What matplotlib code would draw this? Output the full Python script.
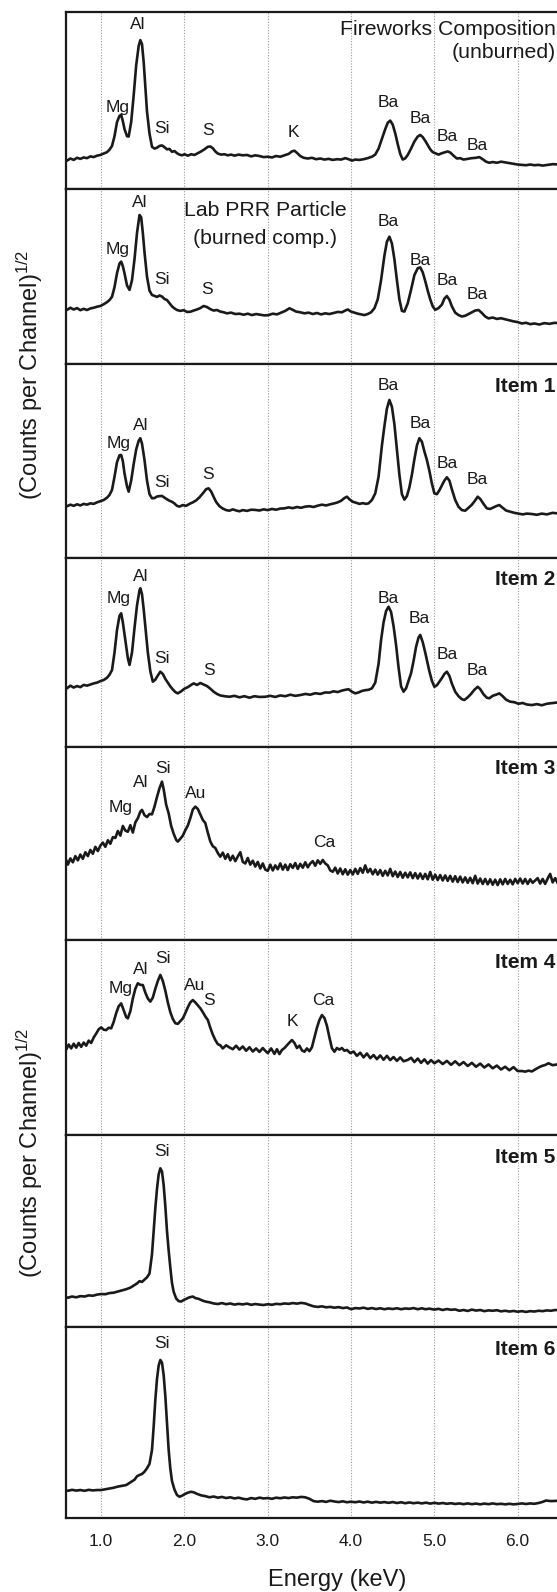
import matplotlib.pyplot as plt

plt.rcParams['font.family'] = ['Liberation Sans', 'DejaVu Sans']
plt.rcParams['mathtext.fontset'] = 'custom'
plt.rcParams['mathtext.rm'] = 'Liberation Sans'
plt.rcParams['mathtext.it'] = 'Liberation Sans:italic'

# --- spectra: energy (keV) and sqrt(counts) scaled to % of panel height ---
fw_e = [0.55, 0.59, 0.63, 0.67, 0.71, 0.75, 0.79, 0.83, 0.87, 0.91, 0.95, 0.99, 1.03, 1.07, 1.10, 1.13,
        1.16, 1.19, 1.22, 1.24, 1.26, 1.28, 1.31, 1.33, 1.36, 1.39, 1.42, 1.45, 1.47, 1.49, 1.51, 1.53,
        1.55, 1.58, 1.61, 1.64, 1.67, 1.70, 1.73, 1.76, 1.79, 1.82, 1.85, 1.88, 1.91, 1.94, 1.97, 2.00,
        2.04, 2.08, 2.12, 2.16, 2.20, 2.24, 2.28, 2.31, 2.34, 2.37, 2.40, 2.44, 2.48, 2.52, 2.56, 2.60,
        2.65, 2.70, 2.75, 2.80, 2.85, 2.90, 2.95, 3.00, 3.05, 3.10, 3.15, 3.20, 3.25, 3.29, 3.32, 3.35,
        3.39, 3.43, 3.48, 3.53, 3.58, 3.63, 3.68, 3.73, 3.78, 3.83, 3.88, 3.93, 3.97, 4.01, 4.05, 4.10,
        4.15, 4.20, 4.25, 4.29, 4.33, 4.37, 4.41, 4.44, 4.47, 4.50, 4.53, 4.56, 4.59, 4.62, 4.65, 4.68,
        4.72, 4.76, 4.80, 4.83, 4.86, 4.89, 4.92, 4.95, 4.98, 5.01, 5.05, 5.09, 5.13, 5.16, 5.19, 5.23,
        5.27, 5.31, 5.35, 5.40, 5.45, 5.50, 5.54, 5.58, 5.62, 5.66, 5.70, 5.75, 5.80, 5.85, 5.90, 5.95,
        6.00, 6.05, 6.10, 6.15, 6.20, 6.25, 6.30, 6.36, 6.42, 6.48, 6.55, 6.62, 6.70, 6.78, 6.90]
fw_y = [17.0, 16.2, 17.4, 16.6, 17.8, 17.2, 18.0, 17.6, 18.6, 18.2, 19.0, 19.4, 20.2, 21.0, 22.4, 24.5,
        30.0, 38.0, 41.5, 42.0, 38.5, 34.0, 30.0, 29.8, 38.0, 53.0, 70.0, 81.0, 84.3, 82.0, 72.0, 58.0,
        44.0, 31.5, 24.0, 23.0, 23.5, 24.5, 24.8, 23.8, 22.6, 22.8, 21.2, 21.6, 20.4, 19.6, 19.2, 19.8,
        19.0, 19.8, 19.4, 20.4, 21.4, 22.6, 24.0, 24.2, 23.2, 21.4, 20.2, 19.6, 19.8, 19.2, 19.6, 19.0,
        19.6, 19.2, 19.4, 18.6, 19.2, 18.8, 18.2, 18.4, 18.0, 18.8, 18.4, 19.2, 20.0, 21.4, 21.8, 20.6,
        18.8, 17.8, 17.4, 17.8, 17.0, 17.4, 16.8, 17.2, 16.6, 17.0, 16.8, 17.6, 17.0, 16.2, 16.8, 16.6,
        17.0, 17.6, 18.4, 19.6, 23.0, 28.5, 34.0, 37.6, 38.8, 36.5, 31.6, 25.5, 20.0, 16.8, 17.5, 19.4,
        23.0, 27.0, 29.8, 30.7, 29.5, 27.4, 25.0, 22.6, 21.0, 20.4, 19.6, 20.4, 21.0, 21.4, 20.8, 19.0,
        17.4, 17.6, 16.8, 17.2, 17.6, 17.8, 18.2, 17.0, 15.6, 15.0, 15.4, 15.0, 15.6, 15.2, 14.8, 14.4,
        14.0, 13.8, 13.6, 14.0, 13.6, 13.8, 13.4, 13.8, 14.2, 14.0, 14.6, 14.4, 14.8, 14.4, 14.6]

lab_e = [0.55, 0.59, 0.63, 0.67, 0.71, 0.75, 0.79, 0.83, 0.87, 0.91, 0.95, 0.99, 1.03, 1.07, 1.10, 1.13,
         1.16, 1.19, 1.22, 1.24, 1.26, 1.28, 1.31, 1.34, 1.37, 1.40, 1.43, 1.46, 1.48, 1.50, 1.52, 1.55,
         1.58, 1.61, 1.64, 1.67, 1.70, 1.73, 1.76, 1.79, 1.82, 1.85, 1.88, 1.91, 1.95, 1.99, 2.03, 2.07,
         2.11, 2.15, 2.19, 2.23, 2.27, 2.31, 2.35, 2.39, 2.43, 2.47, 2.51, 2.56, 2.61, 2.66, 2.71, 2.76,
         2.81, 2.86, 2.91, 2.96, 3.01, 3.06, 3.11, 3.16, 3.21, 3.26, 3.30, 3.34, 3.39, 3.44, 3.49, 3.54,
         3.59, 3.64, 3.69, 3.74, 3.79, 3.84, 3.89, 3.93, 3.96, 4.00, 4.04, 4.08, 4.12, 4.16, 4.20, 4.24,
         4.28, 4.32, 4.36, 4.40, 4.43, 4.46, 4.49, 4.52, 4.55, 4.58, 4.61, 4.64, 4.68, 4.72, 4.76, 4.80,
         4.83, 4.86, 4.89, 4.92, 4.95, 4.98, 5.01, 5.05, 5.09, 5.12, 5.15, 5.18, 5.21, 5.25, 5.29, 5.33,
         5.37, 5.41, 5.45, 5.49, 5.53, 5.57, 5.61, 5.65, 5.70, 5.75, 5.80, 5.85, 5.90, 5.95, 6.00, 6.05,
         6.10, 6.15, 6.20, 6.26, 6.32, 6.38, 6.45, 6.52, 6.60, 6.68, 6.76, 6.90]
lab_y = [31.9, 31.0, 32.2, 31.2, 32.0, 30.8, 31.6, 30.9, 31.8, 32.2, 32.8, 33.2, 34.2, 35.4, 36.6, 38.5,
         44.0, 52.0, 57.5, 58.6, 56.0, 51.9, 45.0, 42.4, 48.0, 60.0, 75.0, 85.3, 84.0, 75.0, 64.0, 50.0,
         42.0, 39.5, 39.0, 38.4, 39.2, 38.6, 37.2, 36.6, 34.8, 33.0, 31.8, 30.9, 30.4, 30.8, 29.8, 29.9,
         30.6, 31.2, 32.0, 33.2, 32.6, 31.4, 30.6, 30.9, 30.0, 29.6, 29.0, 29.4, 28.6, 28.8, 28.2, 28.8,
         28.0, 28.6, 28.2, 27.8, 28.0, 28.8, 28.4, 29.4, 30.4, 31.9, 31.0, 30.0, 29.6, 29.0, 29.4, 28.6,
         29.2, 28.4, 29.0, 28.6, 29.2, 29.8, 29.6, 30.6, 31.2, 30.0, 29.4, 28.8, 28.4, 28.0, 28.6, 29.6,
         31.9, 37.0, 48.0, 62.0, 70.0, 72.9, 69.0, 60.0, 48.0, 37.0, 30.4, 30.0, 34.7, 42.5, 50.9, 54.8,
         55.3, 52.5, 47.5, 42.0, 37.0, 33.0, 31.0, 32.0, 34.0, 37.4, 38.9, 36.8, 33.0, 29.4, 28.0, 27.2,
         27.6, 28.6, 29.6, 30.6, 30.9, 29.2, 27.2, 26.1, 26.6, 25.8, 26.2, 25.6, 25.0, 24.4, 24.0, 23.2,
         23.6, 22.8, 23.2, 22.6, 23.4, 23.0, 23.6, 23.0, 23.4, 22.8, 23.6, 23.4]

item1_e = [0.55, 0.59, 0.63, 0.67, 0.71, 0.75, 0.79, 0.83, 0.87, 0.91, 0.95, 0.99, 1.03, 1.07, 1.10, 1.13,
           1.16, 1.19, 1.22, 1.24, 1.26, 1.28, 1.31, 1.33, 1.36, 1.39, 1.42, 1.45, 1.47, 1.49, 1.52, 1.55,
           1.58, 1.61, 1.64, 1.67, 1.70, 1.73, 1.76, 1.79, 1.82, 1.85, 1.88, 1.91, 1.94, 1.98, 2.02, 2.06,
           2.10, 2.14, 2.18, 2.22, 2.26, 2.29, 2.32, 2.35, 2.38, 2.42, 2.46, 2.50, 2.54, 2.58, 2.62, 2.66,
           2.70, 2.75, 2.80, 2.85, 2.90, 2.95, 3.00, 3.05, 3.10, 3.15, 3.20, 3.25, 3.30, 3.35, 3.40, 3.45,
           3.50, 3.55, 3.60, 3.65, 3.70, 3.75, 3.80, 3.84, 3.88, 3.92, 3.95, 3.98, 4.02, 4.06, 4.10, 4.14,
           4.18, 4.21, 4.25, 4.29, 4.33, 4.37, 4.40, 4.43, 4.46, 4.49, 4.52, 4.55, 4.58, 4.61, 4.64, 4.67,
           4.70, 4.73, 4.76, 4.79, 4.82, 4.85, 4.88, 4.91, 4.94, 4.97, 5.00, 5.03, 5.06, 5.09, 5.12, 5.15,
           5.18, 5.21, 5.25, 5.29, 5.33, 5.37, 5.41, 5.45, 5.49, 5.52, 5.55, 5.59, 5.63, 5.67, 5.71, 5.75,
           5.78, 5.82, 5.86, 5.91, 5.96, 6.01, 6.06, 6.11, 6.17, 6.23, 6.29, 6.35, 6.42, 6.50, 6.58, 6.66,
           6.74, 6.90]
item1_y = [27.4, 26.8, 27.6, 27.0, 27.8, 27.2, 28.0, 27.6, 28.3, 28.0, 28.8, 29.4, 30.0, 31.2, 32.6, 35.2,
           42.0, 49.5, 53.0, 53.2, 50.0, 43.7, 37.0, 34.3, 40.0, 48.5, 56.0, 60.5, 61.8, 59.0, 50.6, 40.0,
           33.0, 30.9, 31.0, 31.8, 32.0, 32.1, 31.2, 30.4, 29.6, 29.1, 28.2, 27.0, 26.6, 27.4, 27.0, 28.0,
           28.8, 29.8, 31.4, 33.4, 35.6, 36.0, 34.4, 31.6, 29.0, 26.8, 25.6, 24.8, 24.5, 25.2, 24.6, 24.2,
           24.8, 24.4, 25.0, 24.9, 24.6, 25.2, 24.8, 25.4, 25.0, 25.6, 25.7, 26.2, 25.8, 26.4, 26.0, 26.6,
           26.8, 26.4, 27.1, 27.6, 27.2, 27.8, 28.3, 28.8, 29.6, 31.0, 31.7, 30.4, 29.1, 28.6, 28.0, 28.4,
           28.0, 28.3, 30.0, 33.4, 42.0, 58.0, 68.0, 77.0, 81.5, 78.0, 69.0, 56.0, 43.0, 33.0, 30.2, 32.0,
           36.5, 43.0, 51.0, 58.0, 61.8, 60.0, 55.0, 50.6, 45.0, 38.5, 33.4, 33.0, 35.0, 37.5, 40.0, 41.7,
           40.0, 35.5, 30.0, 26.5, 24.8, 24.5, 26.0, 27.6, 29.8, 31.7, 30.6, 28.0, 25.7, 25.4, 26.2, 27.0,
           27.4, 26.0, 24.6, 24.0, 23.4, 23.0, 22.6, 23.0, 22.8, 22.4, 23.0, 22.6, 23.4, 23.0, 23.4, 22.8,
           23.4, 23.2]

item2_e = [0.55, 0.59, 0.63, 0.67, 0.71, 0.75, 0.79, 0.83, 0.87, 0.91, 0.95, 0.99, 1.03, 1.07, 1.10, 1.13,
           1.16, 1.19, 1.22, 1.24, 1.26, 1.29, 1.32, 1.34, 1.37, 1.40, 1.43, 1.46, 1.47, 1.49, 1.51, 1.53,
           1.56, 1.59, 1.62, 1.65, 1.68, 1.71, 1.74, 1.77, 1.80, 1.83, 1.86, 1.89, 1.92, 1.96, 2.00, 2.04,
           2.08, 2.11, 2.15, 2.19, 2.23, 2.27, 2.31, 2.35, 2.39, 2.43, 2.48, 2.54, 2.60, 2.66, 2.72, 2.78,
           2.84, 2.90, 2.97, 3.03, 3.09, 3.15, 3.21, 3.27, 3.33, 3.39, 3.45, 3.51, 3.57, 3.63, 3.69, 3.74,
           3.79, 3.84, 3.89, 3.93, 3.97, 4.01, 4.05, 4.09, 4.13, 4.17, 4.21, 4.25, 4.29, 4.33, 4.36, 4.39,
           4.42, 4.45, 4.48, 4.51, 4.54, 4.57, 4.60, 4.63, 4.66, 4.69, 4.72, 4.75, 4.78, 4.81, 4.83, 4.86,
           4.89, 4.91, 4.94, 4.97, 5.00, 5.03, 5.06, 5.09, 5.12, 5.15, 5.18, 5.21, 5.25, 5.29, 5.33, 5.36,
           5.40, 5.44, 5.48, 5.52, 5.55, 5.59, 5.63, 5.66, 5.70, 5.74, 5.78, 5.82, 5.86, 5.91, 5.96, 6.01,
           6.06, 6.11, 6.17, 6.23, 6.29, 6.35, 6.42, 6.50, 6.58, 6.66, 6.74, 6.90]
item2_y = [31.8, 31.0, 32.4, 31.4, 32.2, 31.6, 32.8, 32.4, 33.0, 33.6, 34.0, 34.8, 35.4, 36.6, 38.2, 40.7,
           50.0, 62.0, 69.5, 70.8, 66.0, 56.6, 47.0, 43.4, 50.0, 63.0, 75.0, 83.0, 84.1, 81.0, 73.0, 63.7,
           50.0, 40.0, 34.5, 35.6, 37.8, 39.8, 38.6, 36.0, 34.0, 32.0, 30.4, 29.0, 28.3, 29.4, 30.8, 31.6,
           32.8, 33.6, 32.8, 33.8, 33.0, 32.2, 30.8, 29.2, 28.0, 27.2, 26.8, 26.5, 27.0, 26.2, 26.8, 26.0,
           26.8, 26.4, 26.5, 27.0, 26.4, 27.2, 26.8, 27.6, 27.0, 27.4, 28.0, 27.6, 28.4, 28.0, 28.8, 28.7,
           29.4, 29.0, 29.8, 30.2, 30.5, 29.2, 28.3, 28.8, 29.6, 30.0, 30.2, 31.0, 34.0, 44.0, 56.6, 66.0,
           72.0, 74.3, 71.5, 64.0, 54.0, 42.0, 32.0, 29.2, 31.0, 35.0, 39.0, 45.5, 53.0, 58.0, 59.3, 55.5,
           50.0, 46.0, 40.0, 35.0, 31.8, 32.6, 34.5, 36.4, 38.6, 39.8, 37.6, 33.5, 29.2, 26.8, 25.2, 24.8,
           26.2, 28.0, 30.2, 31.8, 30.6, 27.8, 26.0, 25.7, 27.0, 27.6, 28.3, 26.8, 25.0, 23.9, 23.6, 22.8,
           23.2, 22.4, 22.1, 22.6, 22.0, 22.8, 23.2, 23.6, 23.2, 24.0, 23.6, 23.9]

item3_e = [0.55, 0.58, 0.60, 0.63, 0.66, 0.69, 0.72, 0.75, 0.78, 0.81, 0.84, 0.87, 0.90, 0.93, 0.96, 0.99,
           1.02, 1.05, 1.08, 1.11, 1.14, 1.17, 1.20, 1.23, 1.26, 1.29, 1.32, 1.35, 1.38, 1.41, 1.44, 1.47,
           1.49, 1.52, 1.55, 1.58, 1.61, 1.64, 1.67, 1.70, 1.73, 1.75, 1.78, 1.81, 1.84, 1.87, 1.90, 1.92,
           1.95, 1.98, 2.01, 2.04, 2.07, 2.10, 2.13, 2.16, 2.19, 2.22, 2.25, 2.28, 2.31, 2.34, 2.37, 2.40,
           2.43, 2.46, 2.49, 2.52, 2.55, 2.58, 2.61, 2.64, 2.67, 2.70, 2.73, 2.76, 2.79, 2.82, 2.85, 2.88,
           2.91, 2.94, 2.97, 3.00, 3.03, 3.06, 3.09, 3.12, 3.15, 3.18, 3.21, 3.24, 3.27, 3.30, 3.33, 3.36,
           3.39, 3.42, 3.45, 3.48, 3.51, 3.54, 3.57, 3.60, 3.63, 3.66, 3.69, 3.72, 3.75, 3.78, 3.81, 3.84,
           3.87, 3.90, 3.93, 3.96, 3.99, 4.02, 4.05, 4.08, 4.11, 4.14, 4.17, 4.20, 4.23, 4.26, 4.29, 4.32,
           4.35, 4.38, 4.41, 4.44, 4.47, 4.50, 4.53, 4.56, 4.59, 4.62, 4.65, 4.68, 4.71, 4.74, 4.77, 4.80,
           4.83, 4.86, 4.89, 4.92, 4.95, 4.98, 5.01, 5.04, 5.07, 5.10, 5.13, 5.16, 5.19, 5.22, 5.25, 5.28,
           5.31, 5.34, 5.37, 5.40, 5.43, 5.46, 5.49, 5.52, 5.55, 5.58, 5.61, 5.64, 5.67, 5.70, 5.73, 5.76,
           5.79, 5.82, 5.85, 5.88, 5.91, 5.94, 5.97, 6.00, 6.03, 6.06, 6.09, 6.12, 6.15, 6.18, 6.21, 6.24,
           6.27, 6.30, 6.33, 6.36, 6.39, 6.42, 6.45, 6.48, 6.52, 6.56, 6.60, 6.64, 6.68, 6.72, 6.76, 6.80,
           6.84, 6.90]
item3_y = [39.7, 41.4, 39.0, 42.2, 40.2, 43.4, 41.2, 44.2, 42.0, 45.4, 43.4, 46.6, 44.6, 48.2, 46.0, 48.8,
           50.4, 48.2, 51.6, 49.8, 53.2, 52.8, 56.4, 54.0, 59.0, 56.6, 56.0, 59.4, 55.6, 60.8, 63.0, 66.4,
           67.3, 64.6, 63.6, 65.2, 65.0, 69.0, 74.0, 78.5, 81.9, 78.0, 70.0, 65.5, 59.0, 55.0, 51.8, 50.9,
           52.4, 54.0, 56.8, 59.2, 63.0, 67.5, 69.0, 67.8, 65.0, 62.1, 60.5, 55.5, 51.0, 48.5, 47.6, 45.0,
           43.1, 45.2, 42.0, 44.4, 41.2, 43.6, 40.8, 43.2, 45.4, 40.4, 39.6, 42.4, 39.0, 41.0, 38.0, 40.4,
           37.0, 39.6, 36.4, 35.8, 39.0, 36.0, 38.6, 36.6, 39.6, 36.4, 39.0, 36.2, 39.2, 37.3, 39.8, 36.8,
           39.4, 37.4, 40.2, 37.6, 39.6, 40.8, 38.4, 41.2, 39.4, 41.4, 39.6, 38.6, 36.0, 35.3, 37.4, 34.4,
           37.0, 34.0, 36.6, 33.8, 36.2, 33.9, 36.8, 34.2, 37.2, 34.8, 38.6, 35.0, 36.8, 34.0, 36.4, 33.8,
           36.2, 33.2, 35.8, 33.4, 36.8, 33.0, 35.4, 32.6, 35.2, 32.2, 34.8, 32.4, 35.0, 32.0, 34.6, 31.8,
           34.4, 31.6, 34.2, 31.4, 35.2, 31.2, 33.8, 31.0, 33.6, 30.8, 33.4, 30.6, 33.2, 30.2, 33.0, 30.0,
           32.8, 29.8, 32.4, 29.6, 32.2, 29.4, 33.2, 29.2, 31.8, 29.0, 31.6, 28.8, 31.4, 28.6, 31.2, 28.4,
           31.4, 28.8, 31.6, 29.0, 31.2, 28.8, 31.6, 29.4, 31.8, 29.2, 31.6, 29.0, 31.4, 29.6, 30.8, 32.0,
           29.2, 31.6, 29.0, 31.8, 34.2, 29.8, 32.0, 29.4, 31.8, 29.6, 32.0, 29.8, 32.2, 30.0, 32.0, 30.2,
           32.2, 31.0]

item4_e = [0.55, 0.58, 0.61, 0.64, 0.67, 0.70, 0.73, 0.76, 0.79, 0.82, 0.85, 0.88, 0.91, 0.94, 0.97, 1.00,
           1.03, 1.06, 1.09, 1.12, 1.15, 1.18, 1.21, 1.24, 1.27, 1.30, 1.32, 1.35, 1.38, 1.41, 1.44, 1.47,
           1.50, 1.53, 1.56, 1.59, 1.62, 1.65, 1.68, 1.71, 1.74, 1.77, 1.80, 1.83, 1.86, 1.89, 1.92, 1.95,
           1.98, 2.01, 2.04, 2.07, 2.10, 2.13, 2.16, 2.19, 2.22, 2.25, 2.28, 2.31, 2.34, 2.37, 2.40, 2.43,
           2.46, 2.50, 2.54, 2.58, 2.62, 2.66, 2.70, 2.74, 2.78, 2.82, 2.86, 2.90, 2.94, 2.97, 3.00, 3.04,
           3.08, 3.11, 3.14, 3.17, 3.20, 3.23, 3.26, 3.29, 3.32, 3.35, 3.38, 3.41, 3.44, 3.47, 3.50, 3.53,
           3.56, 3.59, 3.62, 3.65, 3.68, 3.71, 3.74, 3.77, 3.80, 3.83, 3.86, 3.89, 3.92, 3.95, 3.99, 4.03,
           4.07, 4.11, 4.15, 4.19, 4.23, 4.27, 4.31, 4.35, 4.39, 4.43, 4.47, 4.51, 4.55, 4.59, 4.63, 4.68,
           4.72, 4.76, 4.80, 4.84, 4.88, 4.92, 4.96, 5.00, 5.05, 5.10, 5.15, 5.20, 5.25, 5.30, 5.35, 5.40,
           5.45, 5.50, 5.55, 5.60, 5.65, 5.70, 5.75, 5.80, 5.85, 5.90, 5.95, 6.00, 6.05, 6.09, 6.13, 6.17,
           6.21, 6.25, 6.29, 6.33, 6.37, 6.42, 6.50, 6.58, 6.66, 6.74, 6.90]
item4_y = [45.3, 43.8, 46.4, 44.4, 46.8, 44.8, 47.2, 45.2, 47.4, 45.8, 48.4, 47.2, 50.0, 52.0, 54.2, 55.2,
           54.0, 53.8, 55.0, 54.7, 58.0, 62.5, 66.0, 67.5, 64.0, 60.5, 59.8, 63.5, 70.0, 75.0, 77.8, 77.0,
           76.9, 73.0, 70.0, 68.4, 70.5, 75.0, 79.0, 82.1, 79.0, 74.0, 68.0, 63.0, 59.5, 57.3, 57.0, 58.4,
           59.8, 62.5, 65.5, 68.0, 69.2, 68.0, 66.5, 65.0, 63.0, 60.8, 59.0, 55.0, 51.5, 48.7, 46.6, 46.0,
           44.4, 46.0, 44.9, 44.0, 45.8, 43.8, 45.4, 43.2, 45.0, 42.8, 44.4, 42.6, 44.6, 43.2, 42.0, 44.4,
           41.6, 44.0, 41.5, 43.6, 44.6, 46.0, 47.4, 48.7, 47.2, 44.6, 45.8, 43.4, 42.7, 44.4, 43.0, 45.0,
           50.0, 55.0, 59.0, 61.5, 60.0, 56.0, 50.0, 44.5, 42.7, 44.6, 43.8, 44.6, 43.2, 43.6, 42.0, 42.8,
           40.6, 42.2, 39.8, 41.8, 39.4, 41.0, 38.9, 40.8, 38.6, 40.6, 38.4, 40.0, 38.0, 39.8, 37.8, 38.5,
           39.6, 37.4, 39.2, 37.0, 38.8, 36.6, 38.4, 36.8, 38.2, 36.4, 38.0, 36.0, 37.8, 35.8, 37.4, 35.4,
           37.0, 35.0, 36.6, 34.6, 36.2, 34.2, 35.6, 33.6, 35.0, 33.2, 34.8, 32.8, 32.8, 32.5, 33.0, 32.6,
           33.6, 34.6, 35.4, 35.9, 36.8, 35.8, 36.4, 36.0, 36.8, 36.2, 36.8]

item5_e = [0.55, 0.60, 0.65, 0.70, 0.75, 0.80, 0.85, 0.90, 0.95, 1.00, 1.05, 1.10, 1.15, 1.20, 1.25, 1.30,
           1.35, 1.40, 1.43, 1.46, 1.49, 1.52, 1.55, 1.58, 1.61, 1.63, 1.65, 1.67, 1.69, 1.71, 1.73, 1.75,
           1.77, 1.79, 1.81, 1.83, 1.85, 1.87, 1.90, 1.93, 1.96, 1.99, 2.02, 2.06, 2.10, 2.13, 2.17, 2.21,
           2.25, 2.30, 2.35, 2.40, 2.45, 2.50, 2.55, 2.60, 2.65, 2.70, 2.75, 2.80, 2.85, 2.90, 2.95, 3.00,
           3.05, 3.10, 3.15, 3.20, 3.25, 3.30, 3.35, 3.40, 3.45, 3.50, 3.55, 3.60, 3.65, 3.70, 3.75, 3.80,
           3.85, 3.90, 3.95, 4.00, 4.05, 4.10, 4.15, 4.20, 4.25, 4.30, 4.35, 4.40, 4.45, 4.50, 4.55, 4.60,
           4.65, 4.70, 4.75, 4.80, 4.85, 4.89, 4.94, 5.00, 5.05, 5.10, 5.15, 5.20, 5.25, 5.30, 5.35, 5.40,
           5.45, 5.50, 5.55, 5.60, 5.65, 5.70, 5.75, 5.80, 5.85, 5.90, 5.95, 6.00, 6.05, 6.10, 6.15, 6.20,
           6.25, 6.30, 6.35, 6.40, 6.45, 6.50, 6.60, 6.70, 6.80, 6.90]
item5_y = [15.9, 15.4, 16.0, 15.6, 16.2, 16.0, 16.6, 16.4, 17.0, 17.3, 17.2, 17.8, 18.0, 18.6, 19.2, 19.8,
           20.6, 22.0, 22.8, 24.0, 23.6, 24.8, 26.0, 28.0, 38.0, 50.0, 62.0, 72.0, 79.5, 82.7, 81.0, 74.0,
           63.0, 50.0, 40.0, 31.0, 23.0, 18.5, 15.0, 13.6, 13.4, 14.2, 14.8, 15.6, 16.0, 15.2, 14.8, 14.0,
           13.4, 13.0, 12.4, 12.1, 12.6, 12.0, 12.4, 11.8, 12.2, 11.9, 12.3, 11.7, 12.1, 11.8, 11.6, 12.0,
           11.7, 12.2, 12.0, 12.4, 12.2, 12.6, 12.3, 12.7, 12.4, 11.6, 10.9, 10.6, 10.9, 10.4, 10.6, 10.2,
           10.5, 10.0, 10.3, 9.4, 10.0, 9.8, 10.2, 9.6, 10.0, 9.5, 9.9, 9.4, 9.8, 9.5, 9.9, 9.4,
           9.8, 9.6, 10.0, 9.4, 9.9, 9.4, 9.7, 9.2, 9.6, 9.0, 9.5, 9.1, 9.3, 8.6, 9.0, 8.5,
           9.2, 8.7, 9.0, 8.4, 8.8, 8.6, 8.9, 8.3, 8.6, 8.2, 8.5, 8.1, 8.4, 8.0, 8.4, 8.2,
           8.6, 8.4, 8.8, 8.6, 9.0, 8.8, 9.2, 9.0, 9.4, 9.4]

item6_e = [0.55, 0.60, 0.65, 0.70, 0.75, 0.80, 0.85, 0.90, 0.95, 1.00, 1.05, 1.10, 1.15, 1.20, 1.25, 1.30,
           1.35, 1.40, 1.43, 1.46, 1.49, 1.52, 1.55, 1.58, 1.61, 1.63, 1.65, 1.67, 1.69, 1.71, 1.73, 1.75,
           1.77, 1.79, 1.81, 1.83, 1.85, 1.88, 1.91, 1.94, 1.97, 2.00, 2.04, 2.08, 2.11, 2.15, 2.20, 2.25,
           2.30, 2.35, 2.40, 2.45, 2.50, 2.55, 2.60, 2.65, 2.70, 2.75, 2.80, 2.85, 2.90, 2.95, 3.00, 3.05,
           3.10, 3.15, 3.20, 3.25, 3.30, 3.35, 3.40, 3.45, 3.50, 3.55, 3.60, 3.65, 3.70, 3.75, 3.80, 3.85,
           3.90, 3.95, 4.00, 4.05, 4.10, 4.15, 4.20, 4.25, 4.30, 4.35, 4.40, 4.45, 4.50, 4.55, 4.60, 4.65,
           4.70, 4.75, 4.80, 4.85, 4.90, 4.95, 5.00, 5.05, 5.10, 5.15, 5.20, 5.25, 5.30, 5.35, 5.40, 5.45,
           5.50, 5.55, 5.60, 5.65, 5.70, 5.75, 5.80, 5.85, 5.90, 5.95, 6.00, 6.05, 6.10, 6.15, 6.20, 6.25,
           6.30, 6.34, 6.40, 6.50, 6.60, 6.70, 6.80, 6.90]
item6_y = [14.8, 14.4, 14.9, 14.5, 14.8, 14.4, 14.9, 14.6, 14.8, 14.8, 15.2, 15.6, 16.0, 16.6, 17.0, 17.4,
           18.8, 20.2, 22.0, 22.7, 23.2, 24.4, 26.2, 28.5, 35.8, 48.0, 62.0, 73.0, 80.0, 82.9, 81.5, 75.0,
           64.0, 50.0, 35.8, 26.0, 19.5, 15.0, 12.2, 11.3, 11.8, 12.6, 13.4, 13.9, 13.6, 12.8, 12.0, 11.6,
           11.0, 11.4, 10.8, 11.2, 10.6, 11.0, 10.4, 10.8, 10.2, 9.9, 10.6, 10.2, 10.8, 10.4, 10.6, 10.2,
           10.8, 10.5, 10.9, 10.6, 11.0, 10.8, 11.2, 11.0, 10.2, 9.0, 8.7, 9.0, 8.6, 9.2, 8.8, 8.5,
           8.9, 8.4, 8.7, 8.4, 8.8, 8.3, 8.7, 8.2, 8.6, 8.2, 8.5, 8.1, 8.5, 8.0, 8.4, 7.9,
           8.3, 7.9, 8.2, 7.8, 8.2, 7.7, 8.1, 7.7, 8.0, 7.6, 7.9, 7.5, 7.8, 7.4, 7.8, 7.4,
           7.7, 7.3, 7.7, 7.4, 7.8, 7.4, 7.6, 7.3, 7.6, 7.3, 7.5, 7.8, 7.5, 7.8, 7.6, 8.0,
           8.6, 9.3, 9.0, 9.2, 8.8, 9.2, 9.0, 9.2]

# --- peak labels: (element, energy, height %) ---
fw_peaks = [("Al", 1.44, 93), ("Mg", 1.20, 46), ("Si", 1.735, 34.5), ("S", 2.28, 33), ("K", 3.31, 32),
            ("Ba", 4.45, 49), ("Ba", 4.83, 40), ("Ba", 5.15, 29.7), ("Ba", 5.51, 25)]
lab_peaks = [("Al", 1.46, 92.4), ("Mg", 1.20, 65.6), ("Si", 1.73, 48.5), ("S", 2.27, 42.4),
             ("Ba", 4.45, 81.5), ("Ba", 4.83, 59.5), ("Ba", 5.15, 48), ("Ba", 5.51, 39.5)]
item1_peaks = [("Al", 1.48, 68.6), ("Mg", 1.21, 59.2), ("Si", 1.735, 38.9), ("S", 2.28, 42.9),
               ("Ba", 4.45, 88.7), ("Ba", 4.83, 69.4), ("Ba", 5.15, 48.9), ("Ba", 5.51, 40.3)]
item2_peaks = [("Al", 1.47, 90.2), ("Mg", 1.21, 78.8), ("Si", 1.735, 46.9), ("S", 2.29, 40.7),
               ("Ba", 4.45, 78.8), ("Ba", 4.82, 68.2), ("Ba", 5.15, 49.2), ("Ba", 5.51, 40.7)]
item3_peaks = [("Si", 1.74, 88.8), ("Al", 1.48, 81.4), ("Mg", 1.235, 68.6), ("Au", 2.14, 75.9),
               ("Ca", 3.68, 50.3)]
item4_peaks = [("Si", 1.74, 90.6), ("Al", 1.48, 85), ("Mg", 1.235, 75.2), ("Au", 2.12, 76.9),
               ("S", 2.29, 68.9), ("K", 3.30, 58.1), ("Ca", 3.67, 69.2)]
item5_peaks = [("Si", 1.73, 91.3)]
item6_peaks = [("Si", 1.73, 91.3)]

tick_vals = [1.0, 2.0, 3.0, 4.0, 5.0, 6.0]
tick_text = ["1.0", "2.0", "3.0", "4.0", "5.0", "6.0"]

panels = [
    (fw_e, fw_y, fw_peaks, None),
    (lab_e, lab_y, lab_peaks, None),
    (item1_e, item1_y, item1_peaks, "Item 1"),
    (item2_e, item2_y, item2_peaks, "Item 2"),
    (item3_e, item3_y, item3_peaks, "Item 3"),
    (item4_e, item4_y, item4_peaks, "Item 4"),
    (item5_e, item5_y, item5_peaks, "Item 5"),
    (item6_e, item6_y, item6_peaks, "Item 6"),
]

# panel edges in pixels from the top of the 557x1592 image
edges = [12.3, 189.3, 364, 558.3, 746.7, 940, 1135, 1327.3, 1518.3]
W, H = 557, 1592
left_px = 65.7
ink = '#1a1a1a'

fig = plt.figure(figsize=(W / 100, H / 100), dpi=100)

axes = []
for i, (e, y, peaks, item) in enumerate(panels):
    top, bot = edges[i], edges[i + 1]
    ax = fig.add_axes([left_px / W, 1 - bot / H, 1 - left_px / W, (bot - top) / H])
    ax.plot(e, y, color=ink, lw=1.9, solid_joinstyle='round')
    ax.set_xlim(0.574, 6.472)
    ax.set_ylim(0, 100)
    ax.set_yticks([])
    ax.set_xticks(tick_vals)
    ax.tick_params(axis='x', length=0, labelsize=12.5, colors=ink, pad=11)
    if i < len(panels) - 1:
        ax.set_xticklabels([])
    else:
        ax.set_xticklabels(tick_text)
    ax.grid(axis='x', linestyle=(0, (1, 1.5)), color='#9a9a9a', lw=0.8)
    ax.set_axisbelow(True)
    for side in ['top', 'bottom', 'left']:
        ax.spines[side].set_linewidth(1.6)
        ax.spines[side].set_color(ink)
    ax.spines['right'].set_visible(False)
    for name, ex, ey in peaks:
        ax.text(ex, ey, name, ha='center', va='center', fontsize=12.5, color=ink)
    if item:
        ax.text(0.996, 0.885, item, transform=ax.transAxes, ha='right', va='center',
                fontsize=15, fontweight='bold', color=ink)
    axes.append(ax)

axes[0].text(0.998, 0.905, "Fireworks Composition", transform=axes[0].transAxes,
             ha='right', va='center', fontsize=15.3, color=ink)
axes[0].text(0.998, 0.775, "(unburned)", transform=axes[0].transAxes,
             ha='right', va='center', fontsize=15.3, color=ink)
axes[1].text(2.97, 87.8, "Lab PRR Particle", ha='center', va='center', fontsize=15.3, color=ink)
axes[1].text(2.97, 72.0, "(burned comp.)", ha='center', va='center', fontsize=15.3, color=ink)

ylab = r"(Counts per Channel)$^{\mathrm{1/2}}$"
fig.text(30 / W, 1 - 375 / H, ylab, rotation=90, ha='center', va='center', fontsize=17, color=ink)
fig.text(30 / W, 1 - 1153 / H, ylab, rotation=90, ha='center', va='center', fontsize=17, color=ink)
fig.text(337 / W, 1 - 1580 / H, "Energy (keV)", ha='center', va='center', fontsize=17, color=ink)

fig.savefig("out.png", dpi=100, facecolor='white')
